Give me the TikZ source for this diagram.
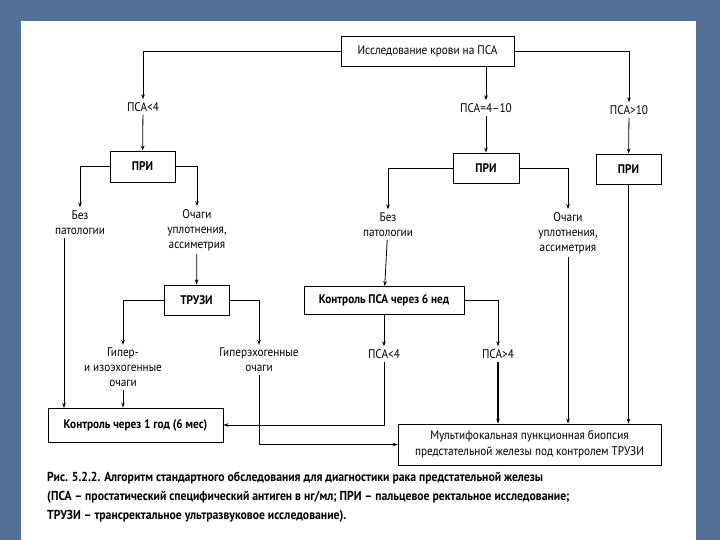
\documentclass[tikz,border=0pt]{standalone}
\usepackage{fontspec}
\setmainfont{PT Sans}[FakeStretch=0.9]
\usetikzlibrary{arrows.meta}
\definecolor{slide}{RGB}{82,111,150}

\begin{document}
\begin{tikzpicture}[x=1pt, y=-1pt,
    >={Stealth[length=5pt,width=3.6pt]},
    box/.style={draw, line width=0.9pt, inner sep=0pt, font=\fontsize{12.5}{14}\selectfont},
    boldbox/.style={box, font=\fontsize{12.5}{14}\selectfont\bfseries},
    lbl/.style={align=center, inner sep=3pt, font=\fontsize{12.5}{15}\selectfont},
    line/.style={line width=0.8pt}]

    % фон слайда и страница
    \fill[slide] (0,0) rectangle (720,540);
    \fill[white] (21,21) rectangle (696,540);
    \useasboundingbox (0,0) rectangle (720,540);

    % верхний блок
    \node[box, minimum width=173pt, minimum height=30pt] (blood) at (427.5,51) {Исследование крови на ПСА};
    \node[lbl] (lt4) at (143,107) {ПСА<4};
    \node[lbl] (mid) at (486,108) {ПСА=4–10};
    \node[lbl] (gt10) at (629,110) {ПСА>10};

    % ПРИ
    \node[boldbox, minimum width=65pt, minimum height=31pt] (pri1) at (142.5,166.5) {ПРИ};
    \node[boldbox, minimum width=66pt, minimum height=30pt] (pri2) at (486,168) {ПРИ};
    \node[boldbox, minimum width=65pt, minimum height=30pt] (pri3) at (628.5,169) {ПРИ};

    \node[lbl] (norm1) at (80,222.5) {Без\\патологии};
    \node[lbl] (focal1) at (197,230) {Очаги\\уплотнения,\\ассиметрия};
    \node[lbl] (norm2) at (388,224.5) {Без\\патологии};
    \node[lbl] (focal2) at (568,233) {Очаги\\уплотнения,\\ассиметрия};

    % ТРУЗИ и контроль ПСА
    \node[boldbox, minimum width=65pt, minimum height=30pt] (truzi) at (196.5,300) {ТРУЗИ};
    \node[boldbox, minimum width=160pt, minimum height=28pt] (ctrl6) at (384,300.5) {Контроль ПСА через 6 нед};

    \node[lbl] (hypiso) at (123,367.5) {Гипер-\\и изоэхогенные\\очаги};
    \node[lbl] (hyper) at (259,360) {Гиперэхогенные\\очаги};
    \node[lbl] (psalt4) at (384,354) {ПСА<4};
    \node[lbl] (psagt4) at (498,354) {ПСА>4};

    % нижние блоки
    \node[boldbox, minimum width=175pt, minimum height=34pt] (ctrl1) at (135.5,425) {Контроль через 1 год (6 мес)};
    \node[box, minimum width=263pt, minimum height=41pt, align=center, font=\fontsize{12.5}{16}\selectfont] (mult) at (529.5,444.5)
        {Мультифокальная пункционная биопсия\\предстательной железы под контролем ТРУЗИ};
    \coordinate (c1) at (64,408);

    % стрелки
    \draw[line, ->] (blood.west) -| (lt4.north);
    \draw[line, ->] (blood.south -| mid) -- (mid.north);
    \draw[line, ->] (blood.east) -| (gt10.north);
    \draw[line, ->] (lt4) -- (pri1);
    \draw[line, ->] (mid) -- (pri2);
    \draw[line, ->] (gt10) -- (pri3);

    \draw[line, ->] (pri1.west) -| (norm1.north);
    \draw[line, ->] (pri1.east) -| (focal1.north);
    \draw[line, ->] (pri2.west) -| (norm2.north);
    \draw[line, ->] (pri2.east) -| (focal2.north);

    \draw[line, ->] (norm1.south -| c1) -- (c1);
    \draw[line, ->] (focal1) -- (truzi);
    \draw[line, ->] (norm2) -- (ctrl6);

    \draw[line, ->] (truzi.west) -| (hypiso.north);
    \draw[line, ->] (truzi.east) -| (hyper.north);
    \draw[line, ->] (ctrl6.south -| psalt4) -- (psalt4.north);
    \draw[line, ->] (ctrl6.east) -| (psagt4.north);

    \draw[line, ->] (hypiso.south) -- (hypiso.south |- ctrl1.north);
    \draw[line, ->] (hyper.south) |- (mult.west);
    \draw[line, ->] (psalt4.south) |- (ctrl1.east);
    \draw[line width=1.8pt, ->] (psagt4.south) -- (psagt4.south |- mult.north);
    \draw[line, ->] (focal2.south) -- (focal2.south |- mult.north);
    \draw[line width=1.2pt, ->] (pri3.south) -- (pri3.south |- mult.north);

    % подпись
    \node[anchor=north west, align=left, inner sep=0pt, font=\fontsize{13}{19}\selectfont\bfseries] (caption) at (47,472)
        {Рис. 5.2.2. Алгоритм стандартного обследования для диагностики рака предстательной железы\\
         (ПСА – простатический специфический антиген в нг/мл; ПРИ – пальцевое ректальное исследование;\\
         ТРУЗИ – трансректальное ультразвуковое исследование).};

\end{tikzpicture}
\end{document}
